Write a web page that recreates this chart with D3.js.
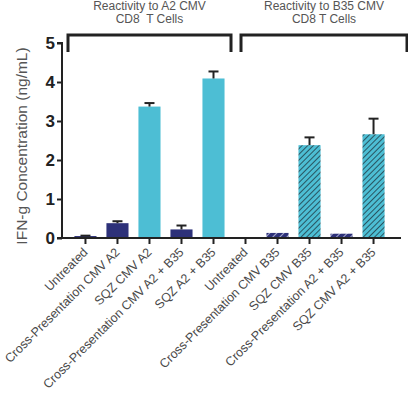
<!DOCTYPE html>
<html>
<head>
<meta charset="utf-8">
<script src="https://cdn.jsdelivr.net/npm/d3@7"></script>
<style>
  body { margin: 0; background: #fff; }
  svg { display: block; font-family: "Liberation Sans", Arial, sans-serif; }
</style>
</head>
<body>
<svg id="chart" width="408" height="399"></svg>
<script>
// categories, left to right
var categories = [
  "Untreated", "Cross-Presentation CMV A2", "SQZ CMV A2",
  "Cross-Presentation CMV A2 + B35", "SQZ A2 + B35",
  "Untreated ", "Cross-Presentation CMV B35", "SQZ CMV B35",
  "Cross-Presentation A2 + B35", "SQZ CMV A2 + B35"
];
var means  = [0.05, 0.38, 3.37, 0.22, 4.09, 0, 0.13, 2.38, 0.11, 2.66];
var errors = [0.01, 0.05, 0.09, 0.10, 0.18, 0, 0, 0.20, 0, 0.40];
// bar kind: treatment type (cross = navy, sqz = cyan) and group (B35 is hatched)
var kinds  = ["cross", "cross", "sqz", "cross", "sqz", "cross", "cross", "sqz", "cross", "sqz"];
var groups = ["A2", "A2", "A2", "A2", "A2", "B35", "B35", "B35", "B35", "B35"];
var yTicks = [0, 1, 2, 3, 4, 5];
var groupTitles = [
  { group: "A2",  lines: ["Reactivity to A2 CMV", "CD8  T Cells"] },
  { group: "B35", lines: ["Reactivity to B35 CMV", "CD8 T Cells"] }
];

var NAVY = "#2d3179", CYAN = "#4dbed4";

var svg = d3.select("#chart");
var defs = svg.append("defs");

// hatch patterns for the B35 group
var hatchCyan = defs.append("pattern").attr("id", "hatch-sqz")
  .attr("patternUnits", "userSpaceOnUse").attr("width", 4).attr("height", 4)
  .attr("patternTransform", "rotate(45)");
hatchCyan.append("rect").attr("width", 4).attr("height", 4).attr("fill", CYAN);
hatchCyan.append("line").attr("x1", 0).attr("y1", 0).attr("x2", 0).attr("y2", 4)
  .attr("stroke", "#1f3a44").attr("stroke-width", 1.6);

var hatchNavy = defs.append("pattern").attr("id", "hatch-cross")
  .attr("patternUnits", "userSpaceOnUse").attr("width", 5).attr("height", 5)
  .attr("patternTransform", "rotate(45)");
hatchNavy.append("rect").attr("width", 5).attr("height", 5).attr("fill", NAVY);
hatchNavy.append("line").attr("x1", 0).attr("y1", 0).attr("x2", 0).attr("y2", 5)
  .attr("stroke", "#c8cbe6").attr("stroke-width", 1.6);

var x = d3.scaleBand().domain(categories).range([64.5, 394.5]).padding(0.31);
var y = d3.scaleLinear().domain([0, 5]).range([238, 43]);

function fillFor(i) {
  if (groups[i] === "B35") return "url(#hatch-" + kinds[i] + ")";
  return kinds[i] === "sqz" ? CYAN : NAVY;
}

// bars
svg.append("g").selectAll("rect")
  .data(categories)
  .join("rect")
  .attr("x", d => x(d))
  .attr("width", x.bandwidth())
  .attr("y", (d, i) => y(means[i]))
  .attr("height", (d, i) => y(0) - y(means[i]))
  .attr("fill", (d, i) => fillFor(i));

// error bars (upper only)
var eb = svg.append("g").attr("stroke", "#222").attr("stroke-width", 2);
categories.forEach(function (c, i) {
  if (errors[i] <= 0) return;
  var cx = x(c) + x.bandwidth() / 2;
  eb.append("line").attr("x1", cx).attr("x2", cx)
    .attr("y1", y(means[i])).attr("y2", y(means[i] + errors[i]));
  eb.append("line").attr("x1", cx - 5).attr("x2", cx + 5)
    .attr("y1", y(means[i] + errors[i])).attr("y2", y(means[i] + errors[i]));
});

// y axis
var yAxis = svg.append("g").attr("transform", "translate(62,0)")
  .call(d3.axisLeft(y).tickValues(yTicks).tickSize(5).tickFormat(d3.format("d")));
yAxis.select(".domain").attr("stroke", "#222").attr("stroke-width", 2)
  .attr("d", "M-5," + y(5) + "H0V" + y(0) + "H-5");
yAxis.selectAll(".tick line").attr("stroke", "#222").attr("stroke-width", 2);
yAxis.selectAll(".tick text")
  .attr("font-size", 17).attr("font-weight", "bold").attr("fill", "#222")
  .attr("x", -7).attr("font-family", "Liberation Sans, Arial, sans-serif");

// x axis
var xAxis = svg.append("g").attr("transform", "translate(0," + y(0) + ")")
  .call(d3.axisBottom(x).tickSize(6).tickSizeOuter(0));
xAxis.select(".domain").attr("stroke", "#222").attr("stroke-width", 2)
  .attr("d", "M62,0H401");
xAxis.selectAll(".tick line").attr("stroke", "#222").attr("stroke-width", 2);
xAxis.selectAll(".tick text")
  .attr("font-size", 12.5).attr("fill", "#4a4a4a")
  .attr("font-family", "Liberation Sans, Arial, sans-serif")
  .attr("text-anchor", "end")
  .attr("dy", null).attr("y", 0)
  .attr("transform", "translate(3,15) rotate(-45)")
  .text(d => d.trim());

// y axis title
svg.append("text")
  .attr("transform", "translate(27,146) rotate(-90)")
  .attr("text-anchor", "middle")
  .attr("font-size", 15.5).attr("fill", "#555")
  .text("IFN-g Concentration (ng/mL)");

// group brackets and titles
groupTitles.forEach(function (g) {
  var x0 = g.group === "A2" ? 68 : 241;
  var x1 = g.group === "A2" ? 231 : 407;
  svg.append("path")
    .attr("d", "M" + x0 + ",52V35H" + x1 + "V52")
    .attr("fill", "none").attr("stroke", "#222").attr("stroke-width", 3);
  var cx = (x0 + x1) / 2;
  var t = svg.append("text").attr("text-anchor", "middle")
    .attr("font-size", 12).attr("fill", "#555");
  g.lines.forEach(function (line, k) {
    t.append("tspan").attr("x", cx).attr("y", 10 + k * 13)
      .attr("xml:space", "preserve").text(line);
  });
});
</script>
</body>
</html>
